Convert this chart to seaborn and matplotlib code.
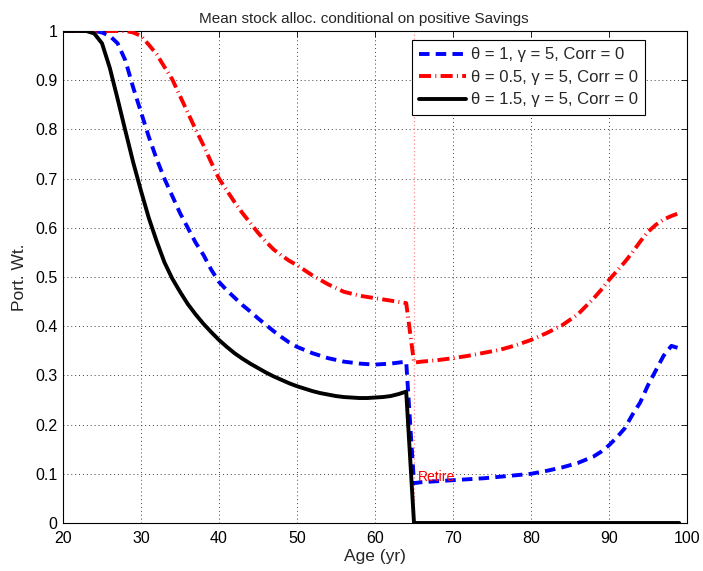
import matplotlib
matplotlib.use("Agg")
import matplotlib.pyplot as plt
import seaborn as sns
import pandas as pd

# ---------------- data ----------------
title = "Mean stock alloc. conditional on positive Savings"
x_label = "Age (yr)"
y_label = "Port. Wt."
retire_age = 65
retire_label = "Retire"

labels = ["θ = 1, γ = 5, Corr = 0",
          "θ = 0.5, γ = 5, Corr = 0",
          "θ = 1.5, γ = 5, Corr = 0"]

age_blue = [20, 22, 24, 25, 26, 27, 28, 29, 30, 31, 32, 33, 34, 35, 36, 37, 38, 39, 40,
            41, 42, 43, 44, 45, 46, 47, 48, 49, 50, 52, 54, 56, 58, 60, 62, 64,
            65, 66, 68, 70, 72, 74, 76, 78, 80, 82, 84, 86, 88, 89, 90, 91, 92, 93,
            94, 95, 96, 97, 98, 99]
val_blue = [1.0, 1.0, 1.0, 0.997, 0.99, 0.975, 0.94, 0.885, 0.835, 0.785, 0.74, 0.70,
            0.665, 0.63, 0.60, 0.57, 0.545, 0.515, 0.49,
            0.473, 0.458, 0.443, 0.43, 0.416, 0.403, 0.39, 0.378, 0.367, 0.358, 0.345,
            0.335, 0.328, 0.324, 0.322, 0.324, 0.328,
            0.081, 0.083, 0.085, 0.087, 0.089, 0.091, 0.094, 0.097, 0.100, 0.106,
            0.113, 0.122, 0.135, 0.145, 0.158, 0.174, 0.192, 0.22,
            0.245, 0.28, 0.31, 0.34, 0.36, 0.355]

age_red = [20, 22, 24, 26, 28, 29, 30, 31, 32, 33, 34, 35, 36, 37, 38, 39, 40,
           41, 42, 43, 44, 45, 46, 47, 48, 49, 50, 52, 54, 56, 58, 60, 62, 64,
           65, 66, 68, 70, 72, 74, 76, 78, 80, 82, 84, 86, 88, 89, 90, 91, 92, 93,
           94, 95, 96, 97, 98, 99]
val_red = [1.0, 1.0, 1.0, 1.0, 1.0, 0.997, 0.99, 0.972, 0.953, 0.927, 0.902, 0.868,
           0.834, 0.80, 0.768, 0.733, 0.70,
           0.676, 0.652, 0.63, 0.61, 0.59, 0.572, 0.556, 0.544, 0.533, 0.524, 0.503,
           0.485, 0.47, 0.462, 0.457, 0.452, 0.447,
           0.326, 0.328, 0.331, 0.335, 0.34, 0.346, 0.352, 0.361, 0.372, 0.386,
           0.402, 0.424, 0.456, 0.474, 0.494, 0.512, 0.53, 0.55,
           0.572, 0.592, 0.606, 0.617, 0.624, 0.63]

age_black = [20, 22, 23, 24, 25, 26, 27, 28, 29, 30, 31, 32, 33, 34, 35, 36, 37, 38,
             39, 40, 41, 42, 43, 44, 45, 46, 47, 48, 49, 50, 51, 52, 53, 54, 55, 56,
             57, 58, 59, 60, 61, 62, 63, 64, 65, 70, 80, 90, 99]
val_black = [1.0, 1.0, 1.0, 0.995, 0.975, 0.925, 0.862, 0.797, 0.733, 0.675, 0.62,
             0.573, 0.53, 0.497, 0.47, 0.445, 0.424, 0.405,
             0.388, 0.372, 0.358, 0.345, 0.334, 0.324, 0.315, 0.306, 0.298, 0.291,
             0.284, 0.278, 0.273, 0.268, 0.264, 0.261, 0.258, 0.256,
             0.255, 0.254, 0.254, 0.255, 0.256, 0.258, 0.262, 0.267,
             0.0, 0.0, 0.0, 0.0, 0.0]

x_ticks = [20, 30, 40, 50, 60, 70, 80, 90, 100]
y_ticks = [0, 0.1, 0.2, 0.3, 0.4, 0.5, 0.6, 0.7, 0.8, 0.9, 1]
y_tick_labels = ["0", "0.1", "0.2", "0.3", "0.4", "0.5", "0.6", "0.7", "0.8", "0.9", "1"]

# ---------------- plot ----------------
sns.set_style("white")
plt.rcParams["font.family"] = ["Liberation Sans", "DejaVu Sans"]

fig = plt.figure(figsize=(7.03, 5.71), dpi=100)
ax = fig.add_axes([63 / 703, 1 - 523 / 571, 624 / 703, 492 / 571])

ax.axvline(retire_age, color=(1.0, 0.55, 0.55), linestyle=(0, (1, 2)), lw=0.9, zorder=1)

df_b = pd.DataFrame({"age": age_blue, "w": val_blue})
df_r = pd.DataFrame({"age": age_red, "w": val_red})
df_k = pd.DataFrame({"age": age_black, "w": val_black})

sns.lineplot(data=df_b, x="age", y="w", ax=ax, color="#0000ff", lw=2.8,
             linestyle=(0, (2.7, 1.6)), label=labels[0], zorder=3)
sns.lineplot(data=df_r, x="age", y="w", ax=ax, color="#ff0000", lw=2.8,
             linestyle=(0, (3.1, 1.1, 0.25, 1.1)), label=labels[1], zorder=3)
sns.lineplot(data=df_k, x="age", y="w", ax=ax, color="black", lw=2.8,
             linestyle="-", label=labels[2], zorder=3)

ax.text(retire_age + 0.5, 0.093, retire_label, color="#ff0000", fontsize=10,
        ha="left", va="center")

ax.set_xlim(20, 100)
ax.set_ylim(0, 1)
ax.set_xticks(x_ticks)
ax.set_yticks(y_ticks)
ax.set_yticklabels(y_tick_labels)
ax.tick_params(direction="in", length=4, width=0.6, top=True, right=True,
               labelsize=11.5, colors="black")
ax.tick_params(axis="x", pad=6)
ax.tick_params(axis="y", pad=4)
ax.grid(True, linestyle=(0, (1, 3)), color="0.25", lw=0.7)
for s in ax.spines.values():
    s.set_color("black")
    s.set_linewidth(0.8)

ax.set_title(title, fontsize=11, pad=6, x=0.482)
ax.set_xlabel(x_label, fontsize=12.5, labelpad=2)
ax.set_ylabel(y_label, fontsize=12.5, labelpad=6)

leg = ax.legend(loc="upper right", bbox_to_anchor=(0.933, 0.982), borderaxespad=0,
                fontsize=12, fancybox=False, framealpha=1, edgecolor="black",
                handlelength=2.8, handletextpad=0.3, borderpad=0.45, labelspacing=0.45)
leg.get_frame().set_linewidth(0.8)

fig.savefig("out.png", dpi=100)
